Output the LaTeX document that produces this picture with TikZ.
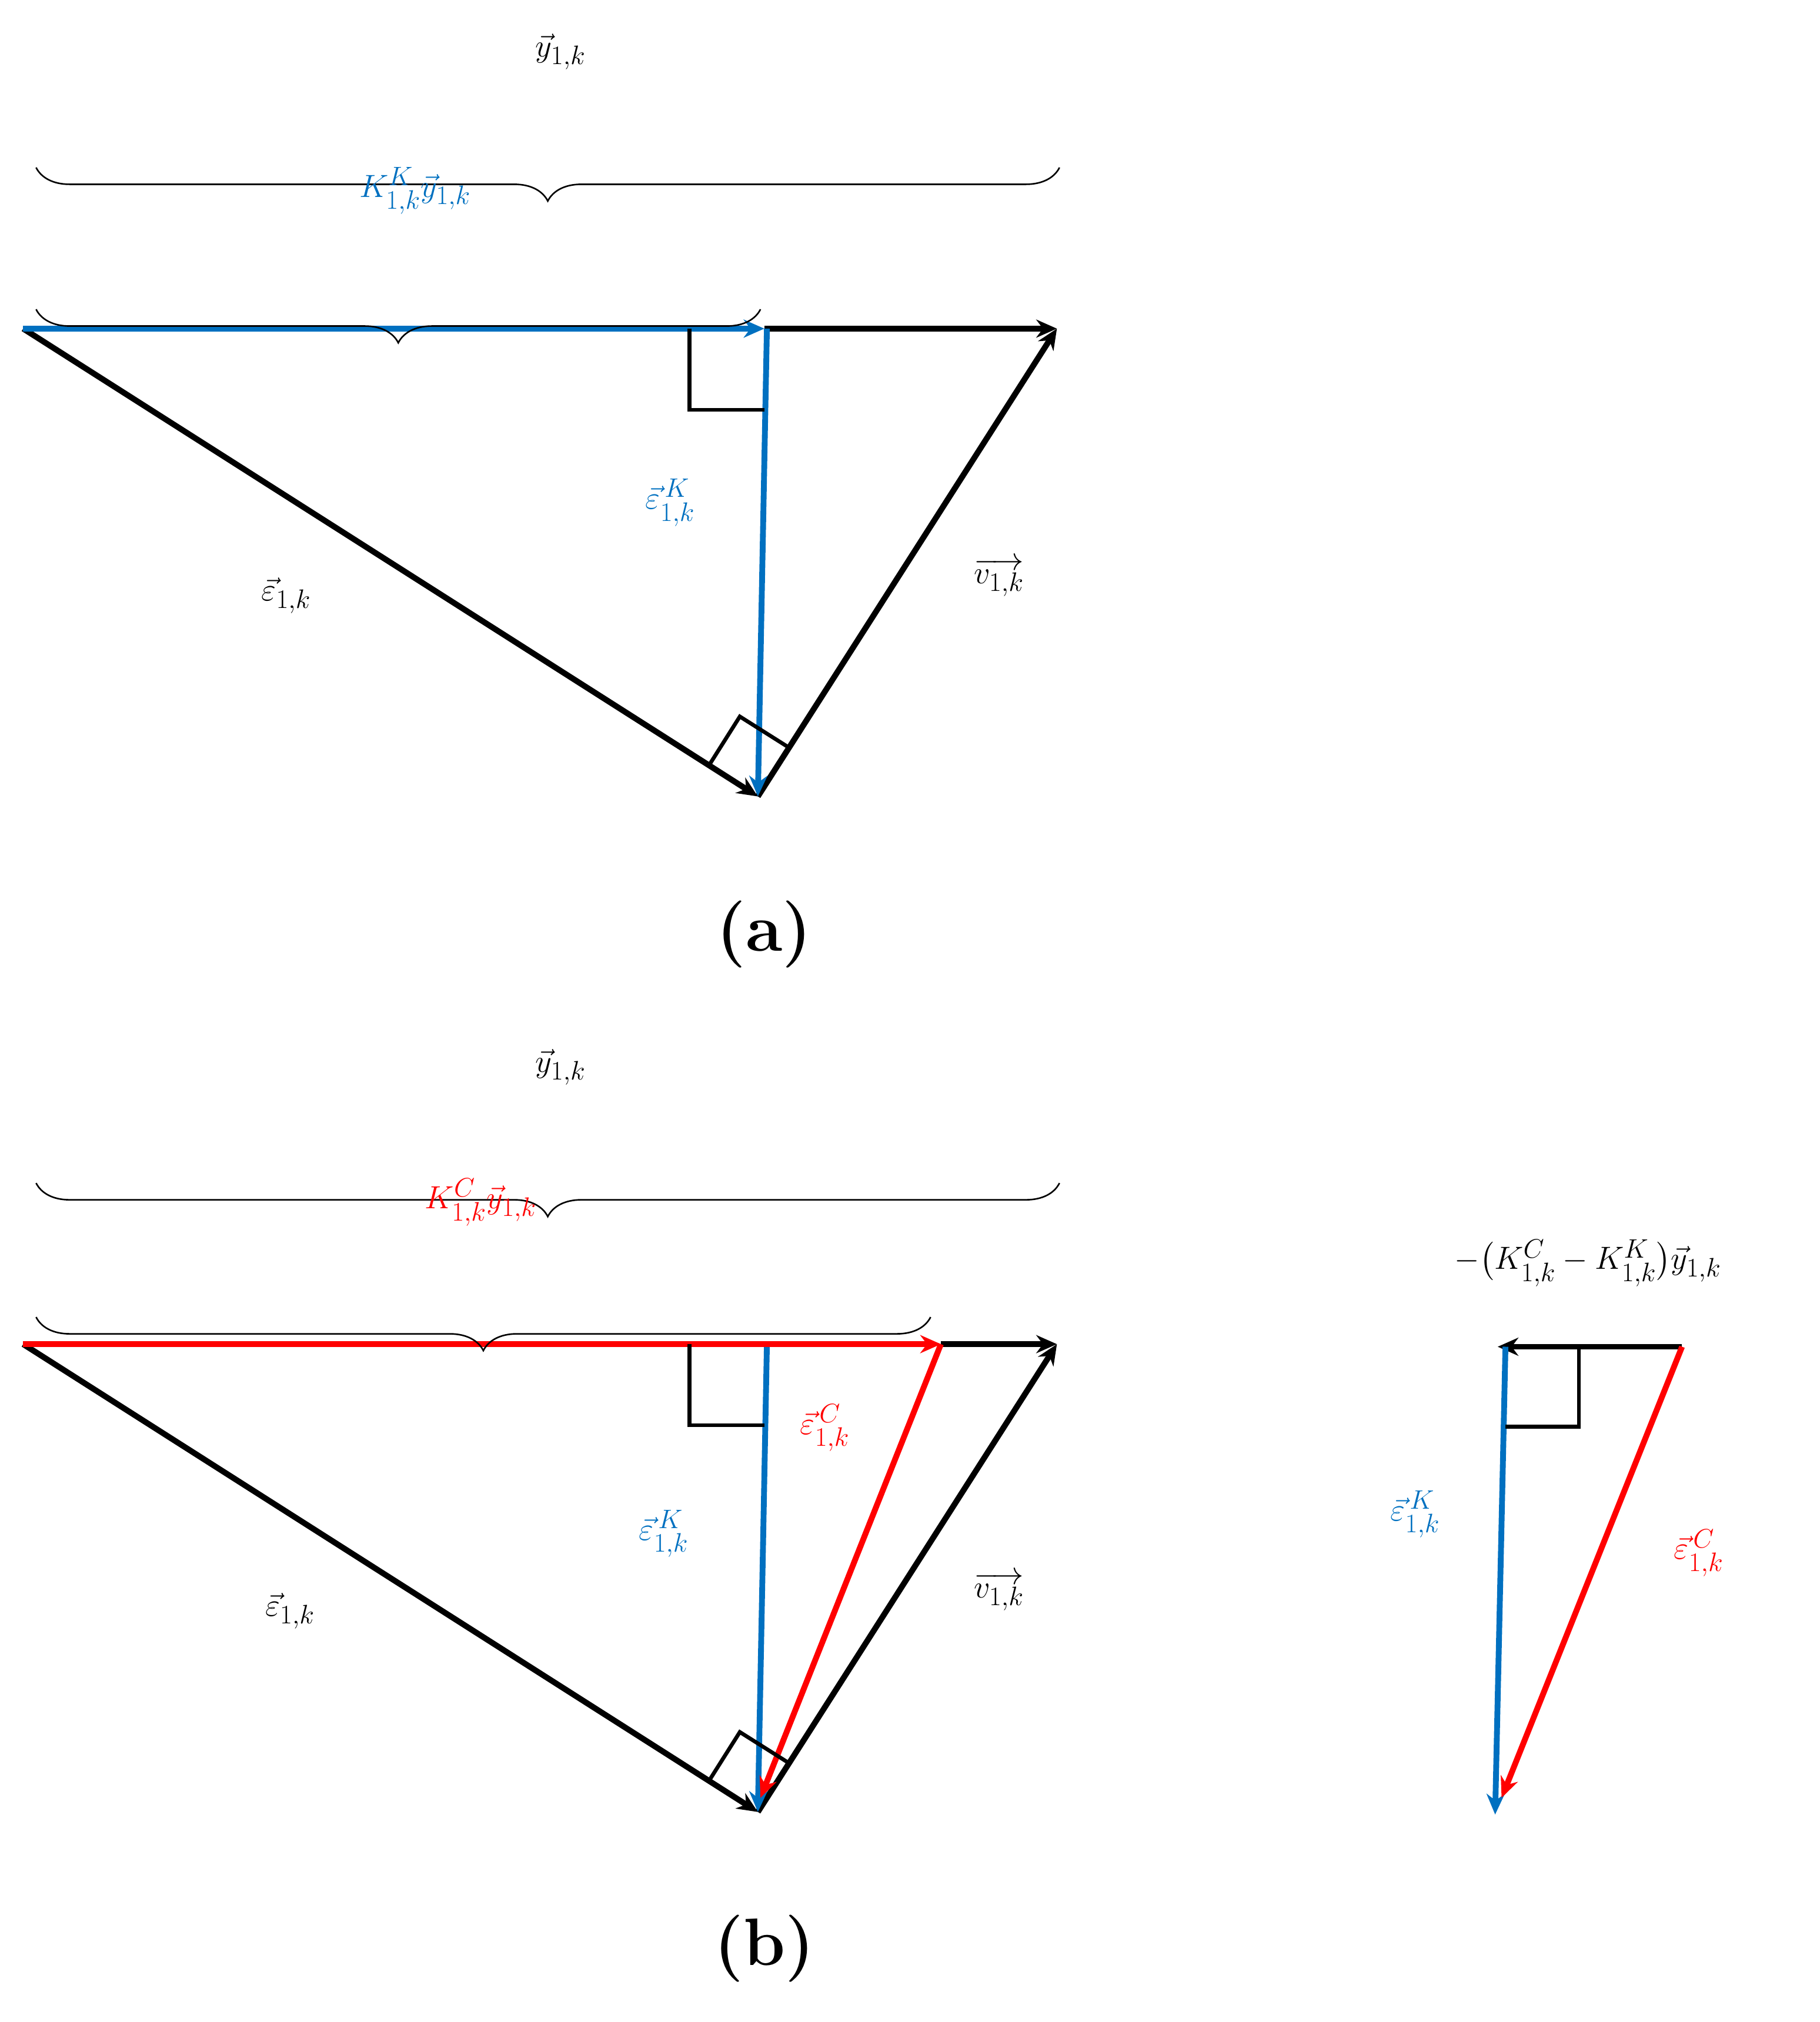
\documentclass[tikz,border=0pt]{standalone}
\usepackage{amsmath}
\usetikzlibrary{arrows.meta,decorations.pathreplacing}
\definecolor{vblue}{RGB}{0,112,192}
\definecolor{vred}{RGB}{255,0,0}
\begin{document}
\begin{tikzpicture}[x=1pt,y=-1pt,
  vec/.style={line width=4.5pt,-{Stealth[length=16pt,width=14pt]}},
  sq/.style={line width=3pt},
  br/.style={line width=1.2pt,decorate,decoration={brace,amplitude=26pt,mirror}},
  lab/.style={font=\fontsize{30}{36}\selectfont},
  captext/.style={font=\fontsize{52}{60}\selectfont\bfseries}]
\useasboundingbox (0,0) rectangle (1412,1569);
% panel a
\coordinate (A) at (18,255); \coordinate (M) at (593,255); \coordinate (C) at (820,255);
\coordinate (B) at (588,618); \coordinate (Mt) at (595,255);
\draw[vec] (M) -- (C);
\draw[vec] (A) -- (B);
\draw[vec] (B) -- (C);
\draw[vec,vblue] (A) -- (M);
\draw[vec,vblue] (Mt) -- (B);
\draw[sq] (535,255) -- (535,318) -- (593,318);
\draw[sq] (550,594) -- (574,556) -- (612,580);
\draw[br] (28,130) -- (822,130);
\draw[br] (28,240) -- (590,240);
\node[lab] (ya) at (435,40) {$\vec{y}_{1,k}$};
\node[lab,text=vblue] (kya) at (322,148) {$K^{K}_{1,k}\vec{y}_{1,k}$};
\node[lab] (ea) at (222,462) {$\vec{\varepsilon}_{1,k}$};
\node[lab,text=vblue] (eka) at (520,390) {$\vec{\varepsilon}^{\,K}_{1,k}$};
\node[lab] (va) at (775,448) {$\overrightarrow{v_{1,k}}$};
\node[captext] (capa) at (593,725) {(a)};
% panel b
\coordinate (A2) at (18,1043); \coordinate (R2) at (730,1043); \coordinate (C2) at (820,1043);
\coordinate (B2) at (588,1406); \coordinate (M2) at (595,1043); \coordinate (Rb) at (590,1395);
\draw[vec] (R2) -- (C2);
\draw[vec] (A2) -- (B2);
\draw[vec] (B2) -- (C2);
\draw[vec,vblue] (M2) -- (B2);
\draw[vec,vred] (A2) -- (R2);
\draw[vec,vred] (R2) -- (Rb);
\draw[sq] (535,1043) -- (535,1106) -- (593,1106);
\draw[sq] (550,1382) -- (574,1344) -- (612,1368);
\draw[br] (28,918) -- (822,918);
\draw[br] (28,1022) -- (722,1022);
\node[lab] (yb) at (435,828) {$\vec{y}_{1,k}$};
\node[lab,text=vred] (kyb) at (373,933) {$K^{C}_{1,k}\vec{y}_{1,k}$};
\node[lab] (eb) at (225,1250) {$\vec{\varepsilon}_{1,k}$};
\node[lab,text=vblue] (ekb) at (515,1190) {$\vec{\varepsilon}^{\,K}_{1,k}$};
\node[lab,text=vred] (ecb) at (640,1108) {$\vec{\varepsilon}^{\,C}_{1,k}$};
\node[lab] (vb) at (775,1235) {$\overrightarrow{v_{1,k}}$};
\node[captext] (capb) at (593,1512) {(b)};
% right
\coordinate (P) at (1305,1045); \coordinate (Q) at (1162,1045); \coordinate (Qt) at (1168,1045);
\coordinate (S) at (1160,1408); \coordinate (T) at (1165,1395);
\draw[vec] (P) -- (Q);
\draw[vec,vblue] (Qt) -- (S);
\draw[vec,vred] (P) -- (T);
\draw[sq] (1168,1107) -- (1225,1107) -- (1225,1045);
\node[lab] (dk) at (1232,980) {$-\bigl(K^{C}_{1,k}-K^{K}_{1,k}\bigr)\vec{y}_{1,k}$};
\node[lab,text=vblue] (ekr) at (1098,1175) {$\vec{\varepsilon}^{\,K}_{1,k}$};
\node[lab,text=vred] (ecr) at (1318,1205) {$\vec{\varepsilon}^{\,C}_{1,k}$};
\end{tikzpicture}
\end{document}
